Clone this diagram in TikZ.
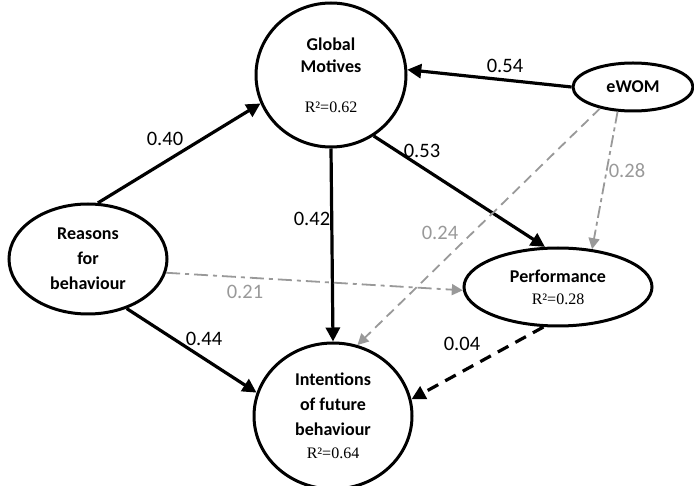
\documentclass[tikz,border=0pt]{standalone}
\usepackage{fontspec}
\setmainfont{Carlito}
\newfontfamily\timesfont{Liberation Serif}
\usetikzlibrary{arrows.meta,
                shapes.geometric}
\newcommand{\rsq}[1]{{\normalfont\timesfont\fontsize{16}{18}\selectfont R²=#1}}

\begin{document}
\begin{tikzpicture}[x=1pt,y=-1pt,
   construct/.style={draw,ellipse,line width=3pt,inner sep=0pt,align=center,
                     font=\bfseries\fontsize{18}{22}\selectfont},
   widespaced/.style={font=\bfseries\fontsize{18}{25}\selectfont},
   strongpath/.style={line width=3.2pt,-{Triangle[length=14pt,width=14pt]}},
   weakpath/.style={line width=1.8pt,draw=black!40,-{Triangle[length=11pt,width=11pt]}},
   coef/.style={font=\fontsize{20.5}{22}\selectfont},
   weakcoef/.style={coef,text=black!40}]
 \useasboundingbox (0,0) rectangle (694,486);
 % constructs
 \node[construct,minimum width=150pt,minimum height=144pt] (motives) at (331,75)
   {Global\\Motives\\[18pt]\rsq{0.62}};
 \node[construct,widespaced,minimum width=158pt,minimum height=110pt] (reasons) at (88,259)
   {Reasons\\for\\behaviour};
 \node[construct,minimum width=188pt,minimum height=78pt] (perform) at (558,287)
   {Performance\\[0pt]\rsq{0.28}};
 \node[construct,widespaced,minimum width=158pt,minimum height=146pt] (intent) at (333,416)
   {Intentions\\of future\\behaviour\\[-2pt]\rsq{0.64}};
 \node[construct,minimum width=120pt,minimum height=48pt] (ewom) at (633,87) {eWOM};
 % paths
 \draw[strongpath] (reasons.80) -- (motives.202);
 \draw[strongpath] (ewom.west) -- (motives.4);
 \draw[strongpath] (motives.305) -- (perform.108);
 \draw[strongpath] (motives.south) -- (intent.north);
 \draw[strongpath] (reasons.308) -- (intent.163);
 \draw[strongpath,dash pattern=on 12pt off 8pt] (perform.250) -- (intent.12);
 \draw[weakpath,dash pattern=on 14pt off 5pt on 4pt off 5pt] (reasons.350) -- (perform.182);
 \draw[weakpath,dash pattern=on 10pt off 6pt] (ewom.213) -- (intent.71);
 \draw[weakpath,dash pattern=on 12pt off 4pt on 4pt off 4pt] (ewom.238) -- (perform.48);
 % coefficients
 \node[coef] (c40) at (165,139) {0.40};
 \node[coef] (c54) at (505,66) {0.54};
 \node[coef] (c53) at (422,151) {0.53};
 \node[coef] (c42) at (312,219) {0.42};
 \node[coef] (c44) at (204,339) {0.44};
 \node[coef] (c04) at (462,344) {0.04};
 \node[weakcoef] (c21) at (245,292) {0.21};
 \node[weakcoef] (c24) at (440,233) {0.24};
 \node[weakcoef] (c28) at (627,171) {0.28};
\end{tikzpicture}
\end{document}
